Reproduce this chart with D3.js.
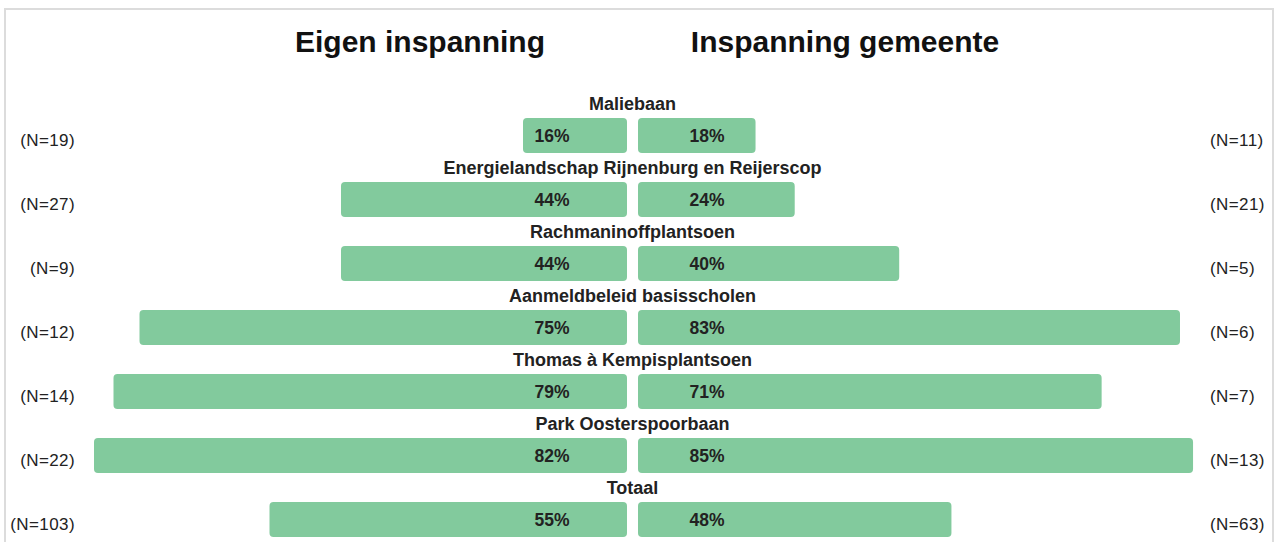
<!DOCTYPE html>
<html lang="nl">
<head>
    <meta charset="UTF-8">
    <title>Eigen inspanning / Inspanning gemeente</title>
    <script src="https://d3js.org/d3.v7.min.js"></script>
    <style>
        body { margin: 0; background: #fff; font-family: "Liberation Sans", Arial, sans-serif; }
        .frame { fill: none; stroke: #dcdcdc; stroke-width: 2px; }
        .title { font-size: 30px; font-weight: bold; fill: #111; }
        .cat { font-size: 18px; font-weight: bold; fill: #222; }
        .val { font-size: 17.5px; font-weight: bold; fill: #222; }
        .n { font-size: 17px; fill: #222; letter-spacing: 0.4px; }
    </style>
</head>
<body>
    <div id="chart"></div>
    <script>
        const W = 1279, H = 542;

        // data
        const categories = ["Maliebaan", "Energielandschap Rijnenburg en Reijerscop", "Rachmaninoffplantsoen",
            "Aanmeldbeleid basisscholen", "Thomas à Kempisplantsoen", "Park Oosterspoorbaan", "Totaal"];
        const eigen = [16, 44, 44, 75, 79, 82, 55];
        const gemeente = [18, 24, 40, 83, 71, 85, 48];
        const nEigen = [19, 27, 9, 12, 14, 22, 103];
        const nGemeente = [11, 21, 5, 6, 7, 13, 63];
        const titles = ["Eigen inspanning", "Inspanning gemeente"];

        const rows = categories.map((c, i) => ({
            cat: c, left: eigen[i], right: gemeente[i], nl: nEigen[i], nr: nGemeente[i]
        }));

        const svg = d3.select("#chart").append("svg")
            .attr("width", W)
            .attr("height", H);

        svg.append("rect")
            .attr("class", "frame")
            .attr("x", 5).attr("y", 9)
            .attr("width", 1268).attr("height", 560);

        const centerL = 627, centerR = 638;
        const xL = d3.scaleLinear().domain([0, 100]).range([centerL, centerL - 650]);
        const xR = d3.scaleLinear().domain([0, 100]).range([centerR, centerR + 653]);
        const y = d3.scaleBand().domain(categories).range([86, 86 + 64 * categories.length]);

        // titles
        svg.append("text").attr("class", "title")
            .attr("x", 420).attr("y", 52).attr("text-anchor", "middle").text(titles[0]);
        svg.append("text").attr("class", "title")
            .attr("x", 845).attr("y", 52).attr("text-anchor", "middle").text(titles[1]);

        const g = svg.selectAll(".row").data(rows).enter()
            .append("g").attr("class", "row")
            .attr("transform", d => `translate(0,${y(d.cat)})`);

        g.append("text").attr("class", "cat")
            .attr("x", (centerL + centerR) / 2).attr("y", 24)
            .attr("text-anchor", "middle")
            .text(d => d.cat);

        g.append("rect")
            .attr("x", d => xL(d.left)).attr("y", 32)
            .attr("width", d => centerL - xL(d.left)).attr("height", 35)
            .attr("rx", 4)
            .attr("fill", "#82ca9d");

        g.append("rect")
            .attr("x", centerR).attr("y", 32)
            .attr("width", d => xR(d.right) - centerR).attr("height", 35)
            .attr("rx", 4)
            .attr("fill", "#82ca9d");

        g.append("text").attr("class", "val")
            .attr("x", 552).attr("y", 56).attr("text-anchor", "middle")
            .text(d => d.left + "%");

        g.append("text").attr("class", "val")
            .attr("x", 707).attr("y", 56).attr("text-anchor", "middle")
            .text(d => d.right + "%");

        g.append("text").attr("class", "n")
            .attr("x", 75).attr("y", 60).attr("text-anchor", "end")
            .text(d => `(N=${d.nl})`);

        g.append("text").attr("class", "n")
            .attr("x", 1210).attr("y", 60).attr("text-anchor", "start")
            .text(d => `(N=${d.nr})`);
    </script>
</body>
</html>
